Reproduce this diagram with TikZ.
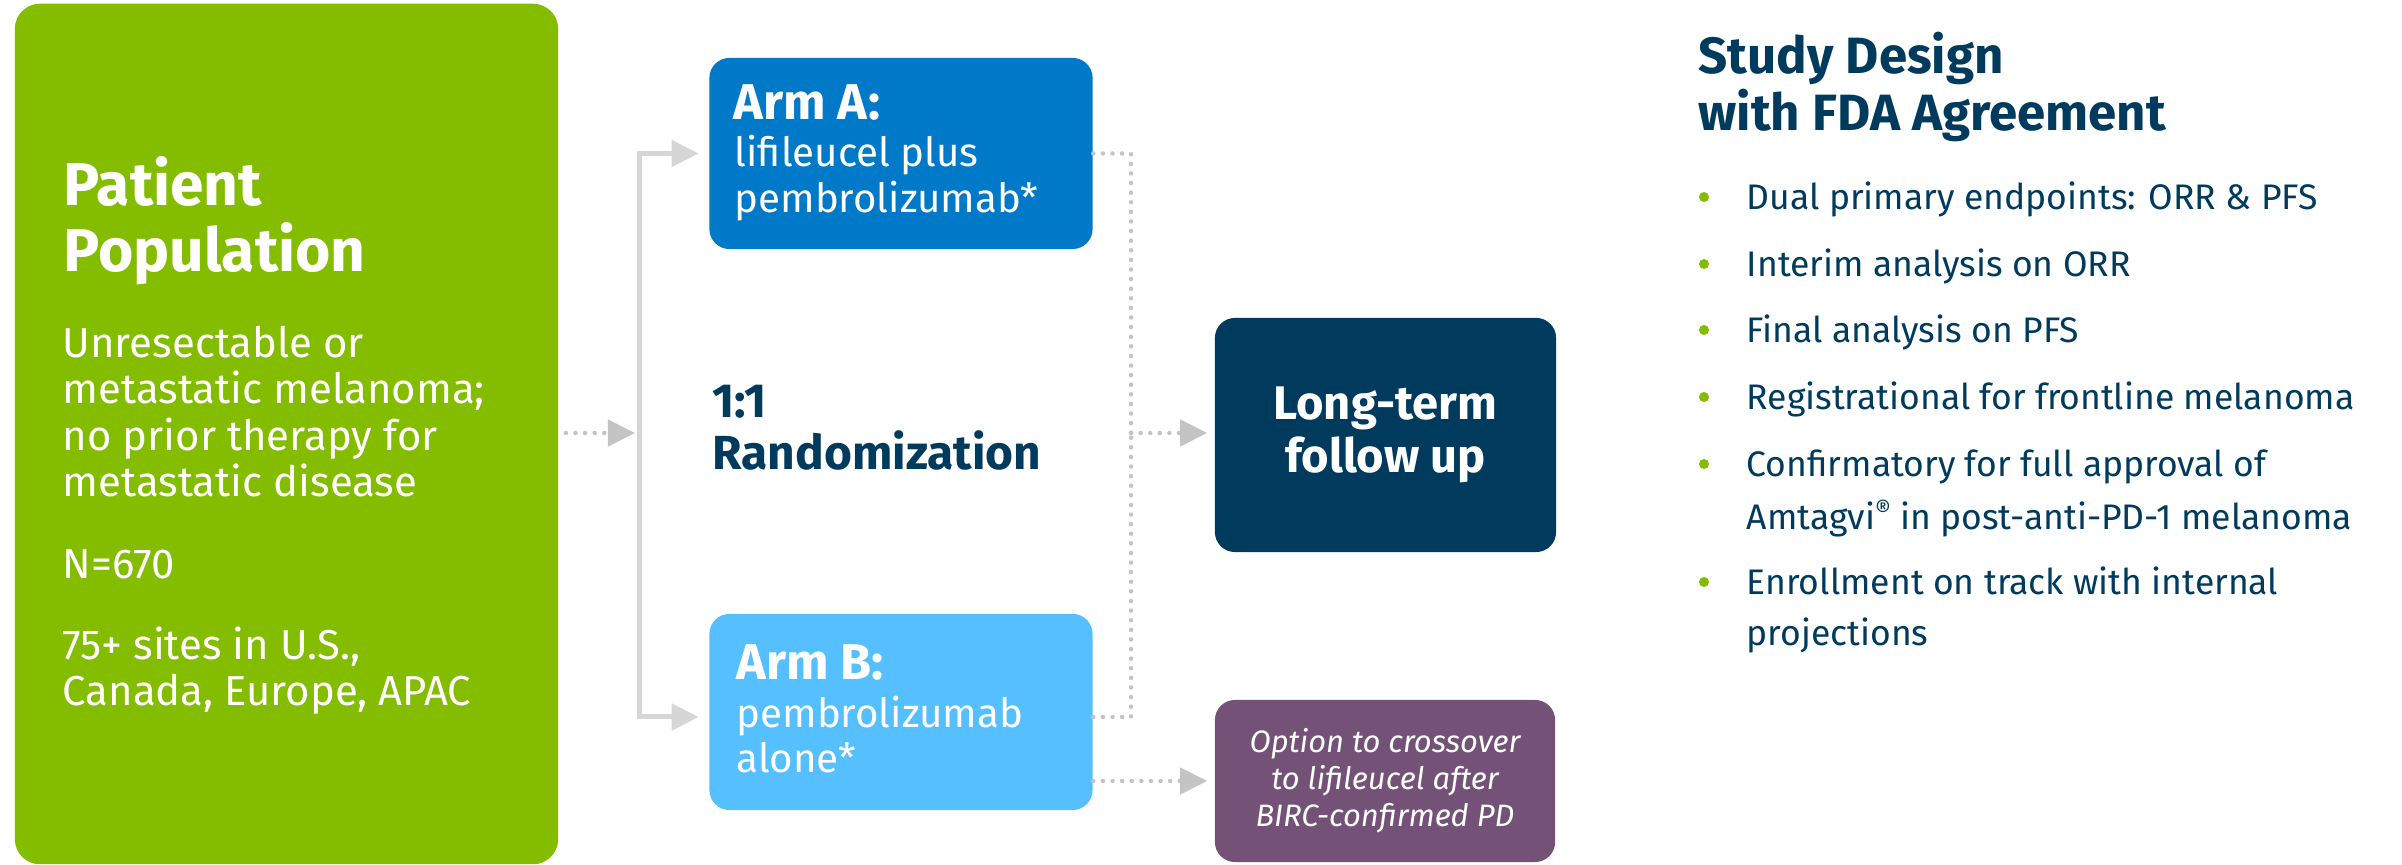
\documentclass[tikz,border=0pt]{standalone}
\usepackage{fontspec}
\setmainfont{Fira Sans}
\usetikzlibrary{arrows.meta,positioning}
\definecolor{popgreen}{HTML}{84BD00}
\definecolor{armablue}{HTML}{0079C8}
\definecolor{armbblue}{HTML}{55BFFF}
\definecolor{navy}{HTML}{003A5D}
\definecolor{crossplum}{HTML}{745277}
\definecolor{linegray}{HTML}{D6D6D6}
\definecolor{dotgray}{HTML}{C4C4C4}
\tikzset{
  panel/.style={rounded corners=0.2cm, inner sep=0pt, text=white},
  linetxt/.style={anchor=base west, inner sep=0pt},
  dotline/.style={dotgray, line width=0.045cm, line cap=round, dash pattern=on 0pt off 0.096cm},
  dottip/.style={-{Triangle[length=0.27cm,width=0.26cm,fill=dotgray]}},
  graytip/.style={linegray, line width=0.05cm, -{Triangle[length=0.27cm,width=0.26cm,fill=linegray]}},
  bullet/.style={circle, fill=popgreen, inner sep=0pt, minimum size=0.1cm},
}
\begin{document}
\begin{tikzpicture}[x=0.01cm,y=-0.01cm]
\useasboundingbox (0,0) rectangle (2402,865);
% boxes
\node[panel, fill=popgreen, minimum width=5.43cm, minimum height=8.6cm, rounded corners=0.25cm] (pop) at (286.5,434) {};
\node[panel, fill=armablue, minimum width=3.83cm, minimum height=1.91cm] (arma) at (901,153.5) {};
\node[panel, fill=armbblue, minimum width=3.83cm, minimum height=1.96cm] (armb) at (901,712) {};
\node[panel, fill=navy, minimum width=3.41cm, minimum height=2.34cm, align=center,
      font=\bfseries\fontsize{13.4}{15}\selectfont] (ltfu) at (1385.5,435) {Long-term\\follow up};
\node[panel, fill=crossplum, minimum width=3.4cm, minimum height=1.62cm, align=center,
      font=\itshape\fontsize{8.8}{10.5}\selectfont] (cross) at (1385,781) {Option to crossover\\to lifileucel after\\BIRC-confirmed PD};
% patient population
\foreach \y/\txt [count=\k] in {206/Patient, 272/Population}
  \node[linetxt, text=white, font=\bfseries\fontsize{17.2}{20}\selectfont] (pophead\k) at (63,\y) {\txt};
\foreach \y/\txt [count=\k] in {358/Unresectable or, 404/{metastatic melanoma;}, 451/no prior therapy for,
    497/metastatic disease, 579/N=670, 660/{75+ sites in U.S.,}, 706/{Canada, Europe, APAC}}
  \node[linetxt, text=white, font=\fontsize{11.9}{13}\selectfont] (popline\k) at (62,\y) {\txt};
% arms
\node[linetxt, text=white, font=\bfseries\fontsize{14.3}{15}\selectfont] (armahead) at (733,120) {Arm A:};
\node[linetxt, text=white, font=\bfseries\fontsize{14.3}{15}\selectfont] (armbhead) at (736,680) {Arm B:};
\foreach \y/\txt [count=\k] in {167/lifileucel plus, 213/pembrolizumab*}
  \node[linetxt, text=white, font=\fontsize{11.45}{13}\selectfont] (armaline\k) at (734,\y) {\txt};
\foreach \y/\txt [count=\k] in {728/pembrolizumab, 773/alone*}
  \node[linetxt, text=white, font=\fontsize{11.45}{13}\selectfont] (armbline\k) at (736,\y) {\txt};
\node[linetxt, text=navy, font=\bfseries\fontsize{13.6}{15}\selectfont] (ratio) at (712,418) {1:1};
\node[linetxt, text=navy, font=\bfseries\fontsize{13.6}{15}\selectfont] (rand) at (712,470) {Randomization};
% study design
\node[linetxt, text=navy, font=\bfseries\fontsize{14.5}{16}\selectfont] (title1) at (1698,74) {Study Design};
\node[linetxt, text=navy, font=\bfseries\fontsize{14.5}{16}\selectfont] (title2) at (1698,131) {with FDA Agreement};
\foreach \y/\txt [count=\k] in {210/{Dual primary endpoints: ORR \& PFS}, 277/{Interim analysis on ORR},
    343/{Final analysis on PFS}, 410/{Registrational for frontline melanoma},
    477/{Confirmatory for full approval of}, 530/{Amtagvi\raisebox{0.6ex}{\scriptsize ®} in post-anti-PD-1 melanoma},
    595/{Enrollment on track with internal}, 646/{projections}}
  \node[linetxt, text=navy, font=\fontsize{10.1}{12}\selectfont] (item\k) at (1746,\y) {\txt};
\foreach \y [count=\k] in {210,277,343,410,477,595}
  \node[bullet] (dot\k) at (1704,\y-13) {};
% connectors
\coordinate (split) at (639,433);
\coordinate (merge) at (1131,433);
\draw[dotline, dottip, shorten <=0.07cm, shorten >=0.04cm] (pop.east |- split) -- (split);
\draw[graytip, shorten >=0.1cm] (split) |- (arma.west);
\draw[graytip, shorten >=0.1cm] (split) |- ([yshift=-0.05cm]armb.west);
\draw[dotline] (arma.east) -| (merge);
\draw[dotline] ([yshift=-0.05cm]armb.east) -| (merge);
\draw[dotline, dottip, shorten >=0.07cm] (merge) -- (merge -| ltfu.west);
\draw[dotline, dottip, shorten >=0.07cm] (armb.east |- cross.west) -- (cross.west);
\end{tikzpicture}
\end{document}
